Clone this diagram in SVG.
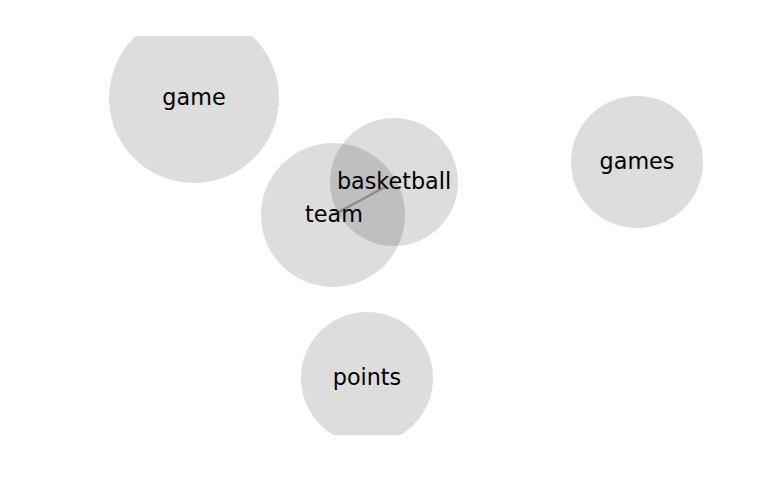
<svg xmlns="http://www.w3.org/2000/svg" width="768" height="500" viewBox="0 0 768 500">
<style>
.node circle{fill:#000;fill-opacity:0.133}
.node text{font-family:"DejaVu Sans",sans-serif;font-size:22.3px;fill:#000;text-anchor:middle}
.edge{stroke:#bbb;stroke-width:2.5}
</style>
<defs><clipPath id="c"><rect x="0" y="36" width="768" height="399"/></clipPath></defs>
<rect width="768" height="500" fill="#fff"/>
<g clip-path="url(#c)">
<g id="edges"><line class="edge" x1="335" y1="214" x2="385" y2="187"/></g>
<g id="game" class="node"><circle cx="194" cy="98" r="85"/><text x="194" y="105">game</text></g>
<g id="team" class="node"><circle cx="333" cy="215" r="72"/><text x="334" y="222">team</text></g>
<g id="basketball" class="node"><circle cx="394" cy="182" r="64"/><text x="394" y="189">basketball</text></g>
<g id="games" class="node"><circle cx="637" cy="162" r="66"/><text x="637" y="169">games</text></g>
<g id="points" class="node"><circle cx="367" cy="378" r="66"/><text x="367" y="385">points</text></g>
</g>
</svg>
